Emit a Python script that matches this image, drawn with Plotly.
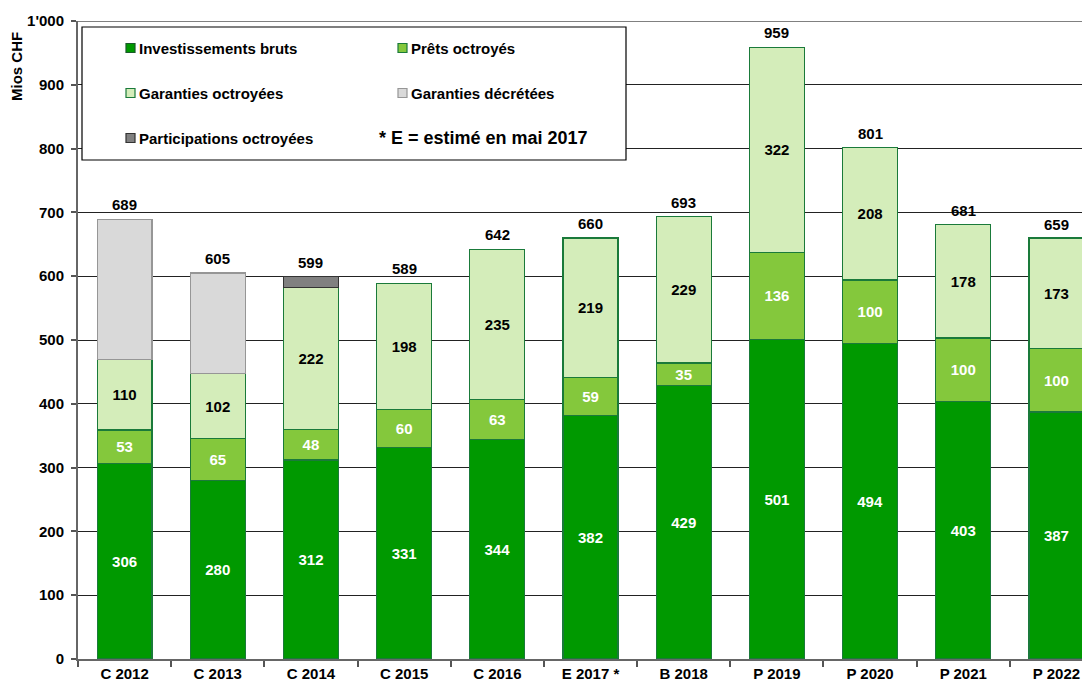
import plotly.graph_objects as go

categories = ["C 2012", "C 2013", "C 2014", "C 2015", "C 2016", "E 2017 *",
              "B 2018", "P 2019", "P 2020", "P 2021", "P 2022"]
invest_bruts = [306, 280, 312, 331, 344, 382, 429, 501, 494, 403, 387]
prets_octroyes = [53, 65, 48, 60, 63, 59, 35, 136, 100, 100, 100]
garanties_octroyees = [110, 102, 222, 198, 235, 219, 229, 322, 208, 178, 173]
garanties_decretees = [220, 158, None, None, None, None, None, None, None, None, None]
participations = [None, None, 17, None, None, None, None, None, None, None, None]
totals = [689, 605, 599, 589, 642, 660, 693, 959, 801, 681, 659]
ytick_vals = [0, 100, 200, 300, 400, 500, 600, 700, 800, 900, 1000]
ytick_text = ["0", "100", "200", "300", "400", "500", "600", "700", "800", "900", "1'000"]

# target picture coordinates (page body has an 8px margin)
OFF = 8
W_T, H_T = 1090, 684
PL, PR, PT, PB = 78, 1090, 21, 659   # plot area in picture px
W, H = W_T - OFF, H_T - OFF
pw = PR - PL
ph = PB - PT

def px_x(px):
    return (px - PL) / pw

def px_y(py):
    return (PB - py) / ph

FONT = "Liberation Sans, Arial, sans-serif"
bold15 = dict(family=FONT, size=15, color="black", weight="bold")

styles = {
    "Investissements bruts": ("#009900", "#1a7a3a"),
    "Prêts octroyés": ("#84C83C", "#1a7a3a"),
    "Garanties octroyées": ("#D4EDBA", "#1a7a3a"),
    "Garanties décrétées": ("#D9D9D9", "#969696"),
    "Participations octroyées": ("#808080", "#333333"),
}

fig = go.Figure()

def label_texts(vals):
    return [str(v) if v else "" for v in vals]

def add_bar(name, vals, text_color=None):
    fill, line = styles[name]
    kw = {}
    if text_color:
        kw = dict(text=label_texts(vals), textposition="inside", insidetextanchor="middle",
                  textangle=0,
                  textfont=dict(family=FONT, size=15, color=text_color, weight="bold"))
    fig.add_trace(go.Bar(x=categories, y=vals, name=name,
                         marker=dict(color=fill, line=dict(color=line, width=1.2)),
                         showlegend=False, hoverinfo="skip", **kw))

add_bar("Investissements bruts", invest_bruts, "white")
add_bar("Prêts octroyés", prets_octroyes, "white")
add_bar("Garanties octroyées", garanties_octroyees, "black")
add_bar("Garanties décrétées", garanties_decretees)
add_bar("Participations octroyées", participations)

for c, t in zip(categories, totals):
    fig.add_annotation(x=c, y=t, text=str(t), showarrow=False, yanchor="bottom",
                       yshift=4, font=bold15)

fig.update_layout(
    width=W, height=H,
    margin=dict(l=PL - OFF, r=W_T - PR, t=PT - OFF, b=H_T - PB, pad=0),
    paper_bgcolor="white", plot_bgcolor="white",
    barmode="stack", bargap=0.41,
    uniformtext=dict(minsize=15, mode="show"),
    font=dict(family=FONT, size=15, color="black"),
    xaxis=dict(range=[-0.5, 10.36], showgrid=False, tickson="boundaries",
               ticks="outside", ticklen=6, tickcolor="#555", tickwidth=1.5,
               showline=True, linecolor="#666", linewidth=2,
               tickfont=bold15, fixedrange=True),
    yaxis=dict(range=[0, 1000], tickvals=ytick_vals, ticktext=ytick_text,
               showgrid=True, gridcolor="#222", gridwidth=1,
               ticks="outside", ticklen=5, tickcolor="#555", tickwidth=1.5,
               ticklabelstandoff=4,
               showline=True, linecolor="#666", linewidth=2,
               tickfont=bold15, zeroline=False, fixedrange=True),
    showlegend=False,
)

# top border line at 1000
fig.add_shape(type="line", xref="paper", yref="y", x0=0, x1=1, y0=1000, y1=1000,
              line=dict(color="#808080", width=2), layer="below")
# legend box
fig.add_shape(type="rect", xref="paper", yref="paper",
              x0=px_x(82), x1=px_x(626), y0=px_y(160), y1=px_y(27),
              line=dict(color="black", width=1.2), fillcolor="white", layer="above")

legend_items = [
    ("Investissements bruts", 126, 48),
    ("Prêts octroyés", 398, 48),
    ("Garanties octroyées", 126, 93),
    ("Garanties décrétées", 398, 93),
    ("Participations octroyées", 126, 138),
]
for name, ix, iy in legend_items:
    fill, line = styles[name]
    fig.add_shape(type="rect", xref="paper", yref="paper",
                  x0=px_x(ix), x1=px_x(ix + 9), y0=px_y(iy + 4.5), y1=px_y(iy - 4.5),
                  line=dict(color=line if name != "Investissements bruts" else "#1a5a2a", width=1.2),
                  fillcolor=fill, layer="above")
    fig.add_annotation(text=name, xref="paper", yref="paper",
                       x=px_x(ix + 11), y=px_y(iy), xanchor="left", yanchor="middle",
                       showarrow=False, font=bold15)

fig.add_annotation(text="* E = estimé en mai 2017", xref="paper", yref="paper",
                   x=px_x(377), y=px_y(138), xanchor="left", yanchor="middle",
                   showarrow=False, font=dict(family=FONT, size=18, color="black", weight="bold"))
fig.add_annotation(text="Mios CHF", xref="paper", yref="paper",
                   x=px_x(16), y=px_y(67), xanchor="center", yanchor="middle",
                   textangle=-90, showarrow=False, font=bold15)

fig.write_html("out.html")
